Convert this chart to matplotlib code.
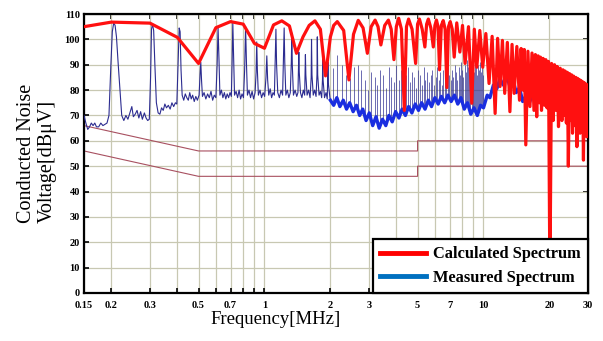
import numpy as np
import matplotlib
matplotlib.use("Agg")
import matplotlib.pyplot as plt
from matplotlib.lines import Line2D

# ---------------- data ----------------
# Calculated spectrum (lobe vertices) [MHz], [dBuV]
red_f = [0.15, 0.2, 0.3, 0.4, 0.5, 0.6, 0.7, 0.8, 0.9, 1.0, 1.1, 1.2, 1.3, 1.4, 1.5, 1.6,
         1.7, 1.8, 1.9, 2.0, 2.07, 2.15, 2.3, 2.43, 2.55, 2.68, 2.82, 2.95, 3.07, 3.2, 3.3,
         3.4, 3.54, 3.68, 3.79, 3.9, 4.0, 4.1, 4.22, 4.35, 4.45, 4.55, 4.72, 4.9, 5.0, 5.1,
         5.25, 5.4, 5.5, 5.6, 5.75, 5.9, 6.0, 6.1, 6.2, 6.3, 6.42, 6.55, 6.68, 6.8, 6.92,
         7.05, 7.2, 7.35,
         7.55, 7.8, 8.02, 8.24, 8.54, 8.84, 9.08, 9.32, 9.62, 9.92, 10.25, 10.6, 10.95, 11.3,
         11.6, 11.9, 12.2, 12.5, 12.85, 13.2, 13.5, 13.8, 14.2, 14.6, 14.85, 15.1, 15.35, 15.6,
         15.95, 16.3, 16.65, 17.0, 17.25, 17.5, 17.75, 18.0, 18.2, 18.4, 18.7, 19.0, 19.25,
         19.5, 19.8, 20.1, 20.45, 20.8, 21.1, 21.4, 21.7, 22.0, 22.4, 22.8, 23.05, 23.3, 23.6,
         23.9, 24.15, 24.4, 24.7, 25.0, 25.25, 25.5, 25.8, 26.1, 26.4, 26.7, 26.9, 27.1, 27.35,
         27.6, 27.85, 28.1, 28.35, 28.6, 28.85, 29.1, 29.35, 29.6, 29.8, 30.0]
red_db = [105, 106.8, 106.4, 100.8, 90.5, 104.6, 107, 106, 98.4, 96.5, 105.7, 107.3, 105.3, 94.5,
          101, 105.5, 107.3, 104, 85.6, 101, 105.5, 107, 103.5, 84, 102, 107.5, 104.5, 94.5,
          105, 107.6, 105, 97.8, 105.5, 107.6, 104, 92, 105, 108.3, 104, 72, 105, 108, 104,
          90.5, 106, 108, 104, 97, 106, 108, 104.5, 97, 105.5, 107.6, 105, 88, 105.5, 107.4,
          104, 81, 105, 107, 104, 93,
          106.5, 95, 105.5, 90.5, 105, 74.8, 104, 89, 103.5, 89, 102.3, 82.6, 101.2, 70.8,
          100.4, 81.4, 99.6, 78.7, 98.8, 71.5, 98, 78.7, 97.2, 76, 96.4, 80, 96, 58.4,
          95.3, 73.5, 94.6, 72, 94, 69.5, 93.5, 75, 93, 72, 92.5, 74, 92,
          73, 91.3, 5, 90.5, 68, 90, 72, 89.3, 65.6, 88.6, 68, 88, 70, 87.5,
          67, 87, 50, 86.5, 68, 86, 63, 85.5, 66, 85, 57.7, 84.6, 66, 84.2,
          63, 83.8, 64, 83.3, 52.4, 82.9, 65, 82.4, 61.6, 82, 81.5]

# Measured spectrum, 0.15-2 MHz trace
blue_lo_f = [0.150, 0.153, 0.156, 0.159, 0.162, 0.165, 0.168, 0.171, 0.175, 0.179, 0.183, 0.187,
             0.191, 0.195, 0.199, 0.202, 0.205, 0.208, 0.211, 0.215, 0.219, 0.223, 0.228, 0.233,
             0.238, 0.243, 0.248, 0.252, 0.257, 0.262, 0.267, 0.272, 0.277, 0.283, 0.288, 0.293,
             0.298, 0.302, 0.305, 0.308, 0.312, 0.316, 0.321, 0.327, 0.333, 0.339, 0.345, 0.351,
             0.357, 0.364, 0.371, 0.378, 0.385, 0.392, 0.398, 0.403, 0.408, 0.412, 0.416, 0.421,
             0.428, 0.435, 0.442, 0.449, 0.456, 0.463, 0.470, 0.478, 0.486, 0.494, 0.503, 0.508,
             0.512, 0.516, 0.521, 0.530, 0.540, 0.550, 0.560, 0.570, 0.580, 0.590, 0.600, 0.608,
             0.614, 0.620, 0.626, 0.636, 0.646, 0.656, 0.666, 0.676, 0.686, 0.696, 0.706, 0.712,
             0.717, 0.723, 0.730, 0.742, 0.754, 0.766, 0.778, 0.790, 0.802, 0.812, 0.820, 0.828,
             0.836, 0.850, 0.864, 0.878, 0.892, 0.906, 0.916, 0.922, 0.928, 0.938, 0.954, 0.970,
             0.986, 1.002, 1.016, 1.025, 1.034, 1.046, 1.062, 1.078, 1.094, 1.110, 1.120, 1.128,
             1.136, 1.150, 1.170, 1.190, 1.210, 1.222, 1.230, 1.238, 1.252, 1.272, 1.292, 1.312,
             1.326, 1.333, 1.340, 1.356, 1.380, 1.404, 1.422, 1.430, 1.435, 1.442, 1.460, 1.482,
             1.504, 1.526, 1.532, 1.538, 1.545, 1.565, 1.590, 1.615, 1.634, 1.640, 1.648, 1.670,
             1.695, 1.720, 1.737, 1.743, 1.750, 1.775, 1.800, 1.825, 1.840, 1.845, 1.852, 1.880,
             1.910, 1.935, 1.943, 1.948, 1.955, 1.990, 2.000]
blue_lo_db = [70, 67, 64.5, 65.5, 67, 66, 67, 65.5, 65.5, 67, 66, 66.5,
              67, 70, 90, 103, 106.5, 105.5, 101, 90, 80, 70, 68, 70,
              68.5, 71, 73.5, 69.5, 70.5, 72, 69, 71.5, 68.5, 71, 69, 68,
              68.5, 85, 104, 106, 103.5, 90, 75, 71, 70.5, 73, 72, 74.5,
              73, 74, 72.5, 75, 73.5, 75, 74.5, 90, 104.5, 103, 88, 78,
              76, 78.5, 77, 76, 79, 76.5, 78, 75.5, 77.5, 76, 78, 86,
              91, 84, 77.5, 79, 76.5, 78.5, 77, 79.5, 76, 78, 77, 90,
              104.5, 92, 78, 80, 77, 79, 76.5, 78.5, 77, 79, 77.5, 92,
              106.5, 93, 78, 79.5, 77, 80, 76.5, 78.5, 77, 88, 105, 90,
              78, 80, 77, 79.5, 76.5, 79, 87, 99, 88, 78, 80, 77,
              79, 77.5, 85, 93.5, 84, 78, 80.5, 77, 79, 78, 92, 104,
              90, 79, 77, 80, 78, 93, 104.5, 91, 78, 80, 77, 79,
              91, 102.5, 90, 78, 80, 77.5, 79, 89, 95, 87, 79, 77,
              80, 78, 87, 94, 86, 78, 80, 77, 85, 100, 86, 78,
              80, 77.5, 86, 101, 86, 78, 79.5, 77, 84, 96, 84, 77,
              79, 76.5, 84, 91, 83, 77, 76]

# Measured spectrum, 2-30 MHz noise band
band_f = [2.00, 2.07, 2.14, 2.21, 2.29, 2.37, 2.45, 2.54, 2.63, 2.72, 2.81, 2.91, 3.01, 3.12,
          3.23, 3.34, 3.46, 3.58, 3.70, 3.83, 3.97, 4.11, 4.25, 4.40, 4.55, 4.71, 4.88, 5.05,
          5.22, 5.41, 5.60, 5.79, 6.00, 6.21, 6.42, 6.65, 6.88, 7.12, 7.37, 7.63, 7.89, 8.17,
          8.45, 8.75, 9.05, 9.37, 9.70, 10.0, 10.4, 10.7, 11.1, 11.5, 11.9, 12.3, 12.8, 13.2,
          13.7, 14.1, 14.6, 15.1, 15.7, 16.2, 16.8, 17.4, 18.0, 18.6, 19.3, 19.9, 20.6, 21.3,
          22.1, 22.8, 23.6, 24.5, 25.3, 26.2, 27.1, 28.1, 29.0, 30.0]
band_db = [76, 74, 77, 73.5, 76, 72.5, 75, 71.5, 74, 70, 72.5, 68, 71, 66,
           69.5, 65, 68.5, 66, 70, 67.5, 71.5, 69, 72.5, 70, 73.5, 71, 74.5, 72,
           75, 72.5, 76, 73.5, 77, 74.5, 77.5, 75, 78, 75.5, 78, 74.5, 77, 72.5,
           75, 70.5, 73, 70, 74, 73, 78, 77, 82, 80.5, 84.5, 82, 85, 81.5,
           83.5, 79, 81, 75.5, 78, 75, 78.5, 76.5, 80.5, 78, 80, 77.5, 81, 79.5,
           85, 82.5, 86, 80, 79, 74.5, 75, 70.5, 71, 63]

# Measured spectrum, harmonic spikes 2-10 MHz
spike_f = [2.05, 2.15, 2.26, 2.36, 2.46, 2.56, 2.67, 2.77, 2.87, 2.97, 3.08, 3.18, 3.28, 3.38,
           3.49, 3.59, 3.69, 3.79, 3.90, 4.00, 4.10, 4.20, 4.31, 4.41, 4.51, 4.61, 4.72, 4.82,
           4.92, 5.02, 5.13, 5.23, 5.33, 5.43, 5.54, 5.64, 5.74, 5.84, 5.95, 6.05, 6.15, 6.25,
           6.36, 6.46, 6.56, 6.66, 6.77, 6.87, 6.97, 7.07, 7.18, 7.28, 7.38, 7.48, 7.59, 7.69,
           7.79, 7.89, 8.00, 8.10, 8.20, 8.30, 8.41, 8.51, 8.61, 8.71, 8.82, 8.92, 9.02, 9.12,
           9.23, 9.33, 9.43, 9.53, 9.64, 9.74, 9.84, 9.94]
spike_db = [88.6, 93.8, 89.9, 86, 84.7, 89.2, 90, 88, 84, 80, 87, 85, 82, 88,
            86, 81, 89, 85, 83, 90, 84, 88, 80, 86, 89, 83, 87, 85,
            81, 88, 86, 82, 89, 84, 87, 83, 86, 88, 82, 85, 89, 84,
            87, 82, 88, 85, 83, 89, 86, 84, 88, 85, 90, 87, 84, 89,
            86, 91, 88, 85, 90, 87, 92, 89, 86, 91, 88, 90, 87, 91,
            89, 86, 90, 88, 91, 87, 89, 86]

# EMI limit lines
limit_f = [0.15, 0.5, 5, 5, 30]
limit_qp = [66, 56, 56, 60, 60]
limit_av = [56, 46, 46, 50, 50]

x_ticks = [0.15, 0.2, 0.3, 0.4, 0.5, 0.6, 0.7, 0.8, 0.9, 1, 2, 3, 4, 5, 6, 7, 8, 9, 10, 20, 30]
x_labels = ['0.15', '0.2', '0.3', '', '0.5', '', '0.7', '', '', '1', '2', '3', '', '5', '',
            '7', '', '', '10', '20', '30']
y_ticks = list(range(0, 111, 10))

# ---------------- figure ----------------
W, H = 603, 341
fig = plt.figure(figsize=(W / 100, H / 100), dpi=100)
ax = fig.add_axes([84 / W, 1 - 293 / H, (588 - 84) / W, (293 - 14) / H])
ax.set_xscale('log')
ax.set_xlim(0.15, 30)
ax.set_ylim(0, 110)

tick_font = dict(family='Liberation Serif', weight='bold', size=7.5)
ax.set_xticks(x_ticks)
ax.set_xticklabels(x_labels, fontdict=tick_font)
ax.xaxis.set_minor_locator(matplotlib.ticker.NullLocator())
ax.set_yticks(y_ticks)
ax.set_yticklabels([str(v) for v in y_ticks], fontdict=tick_font)
ax.tick_params(axis='both', direction='in', length=3.5, width=1.2, pad=3, color='black')
ax.tick_params(axis='x', pad=6)

grid_c = '#c8c8b2'
ax.grid(True, which='major', color=grid_c, lw=0.9)
ax.set_axisbelow(True)

for s in ax.spines.values():
    s.set_linewidth(1.6)
    s.set_color('black')

sec_r = ax.secondary_yaxis('right')
sec_r.set_yticks([20, 40, 60, 80, 100])
sec_r.set_yticklabels([])
sec_r.tick_params(direction='in', length=3.5, width=1.2)
sec_t = ax.secondary_xaxis('top')
sec_t.set_xticks(x_ticks)
sec_t.set_xticklabels([])
sec_t.xaxis.set_minor_locator(matplotlib.ticker.NullLocator())
sec_t.tick_params(direction='in', length=3.5, width=1.2)

# limits
lim_c = '#a85060'
ax.plot(limit_f, limit_qp, color=lim_c, lw=0.8, zorder=2)
ax.plot(limit_f, limit_av, color=lim_c, lw=0.8, zorder=2)

# measured spectrum
navy = '#2c2c90'
ax.plot(blue_lo_f, blue_lo_db, color=navy, lw=0.8, zorder=3)
base = np.interp(np.log(spike_f), np.log(band_f), band_db)
ax.vlines(spike_f, base, spike_db, color=navy, lw=0.7, alpha=0.7, zorder=3)
ax.plot(band_f, band_db, color='#1a2ee0', lw=2.4, zorder=3.5)

# calculated spectrum
ax.plot(red_f, red_db, color='#ff1010', lw=2.3, zorder=4, solid_joinstyle='round')

# legend
handles = [Line2D([], [], color='#ff0000', lw=3.5),
           Line2D([], [], color='#0070c0', lw=3.5)]
leg = ax.legend(handles, ['Calculated Spectrum', 'Measured Spectrum'],
                loc='lower right', bbox_to_anchor=(1.0, 0.0), borderaxespad=0,
                prop=dict(family='Liberation Serif', weight='bold', size=11.8),
                frameon=True, fancybox=False, framealpha=1, edgecolor='black',
                handlelength=2.8, handletextpad=0.4, labelspacing=0.45,
                borderpad=0.45)
leg.get_frame().set_linewidth(1.6)
leg.set_zorder(10)

# axis labels
fig.text(276 / W, 1 - 320 / H, 'Frequency[MHz]', family='Liberation Serif',
         size=13.5, ha='center', va='center')
fig.text(37 / W, 1 - 223 / H, 'Conducted Noise\nVoltage[dB\u03bcV]',
         family='Liberation Serif', size=14.5, rotation=90, ha='center', va='bottom',
         multialignment='left', linespacing=1.15)

fig.savefig('out.png', dpi=100)
